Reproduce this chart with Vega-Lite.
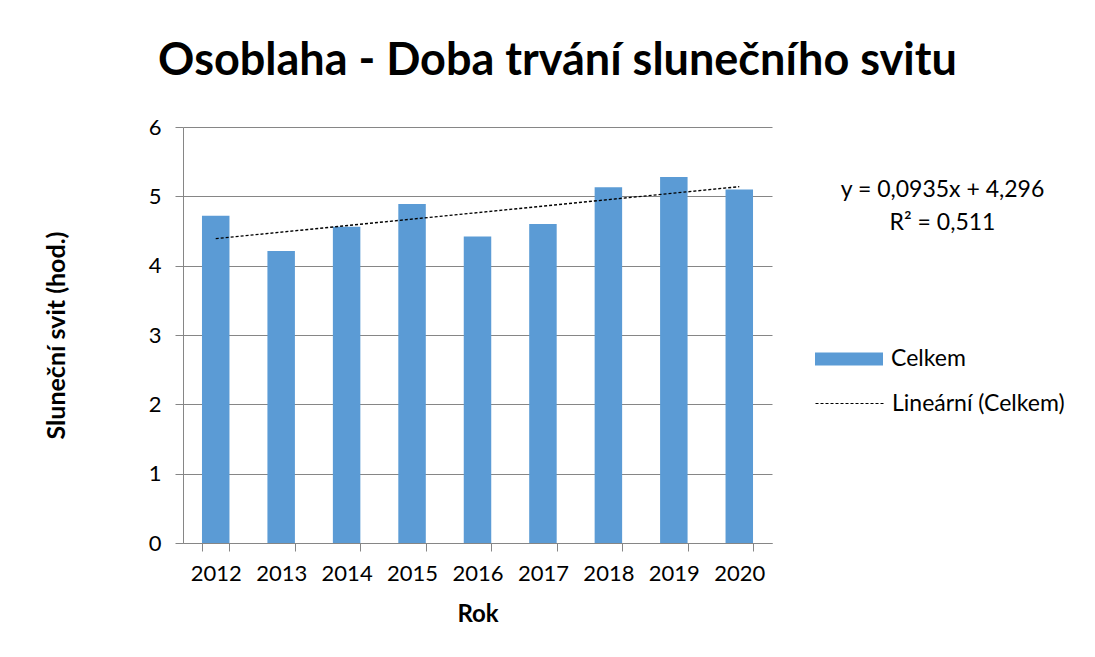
{
  "$schema": "https://vega.github.io/schema/vega-lite/v6.json",
  "width": 589,
  "height": 416,
  "autosize": {"type": "none"},
  "padding": {"left": 183, "top": 127, "right": 323, "bottom": 114},
  "background": "white",
  "config": {"font": "Lato", "view": {"stroke": null}},
  "title": {
    "text": "Osoblaha - Doba trvání slunečního svitu",
    "fontSize": 45,
    "fontWeight": "bold",
    "color": "black",
    "anchor": "middle",
    "frame": "group",
    "dx": 80,
    "offset": 32,
    "font": "Lato"
  },
  "datasets": {
    "bars": [
      {"Rok": 2012, "Celkem": 4.72},
      {"Rok": 2013, "Celkem": 4.21},
      {"Rok": 2014, "Celkem": 4.56},
      {"Rok": 2015, "Celkem": 4.89},
      {"Rok": 2016, "Celkem": 4.42},
      {"Rok": 2017, "Celkem": 4.60},
      {"Rok": 2018, "Celkem": 5.13},
      {"Rok": 2019, "Celkem": 5.28},
      {"Rok": 2020, "Celkem": 5.10}
    ],
    "trend": [
      {"Rok": 2012, "trend": 4.39},
      {"Rok": 2020, "trend": 5.14}
    ]
  },
  "layer": [
    {
      "data": {"name": "bars"},
      "mark": {"type": "bar", "color": "#5B9BD5"},
      "encoding": {
        "x": {
          "field": "Rok",
          "type": "ordinal",
          "scale": {"paddingInner": 0.58, "paddingOuter": 0.29},
          "axis": {
            "title": "Rok",
            "titleFontSize": 24,
            "titleFontWeight": "bold",
            "titleColor": "black",
            "titlePadding": 18,
            "labelAngle": 0,
            "labelFontSize": 22,
            "labelColor": "black",
            "labelPadding": 12,
            "domainColor": "#868686",
            "tickColor": "#868686",
            "tickSize": 8,
            "tickBand": "extent",
            "grid": false
          }
        },
        "y": {
          "field": "Celkem",
          "type": "quantitative",
          "scale": {"domain": [0, 6]},
          "axis": {
            "title": "Sluneční svit (hod.)",
            "titleFontSize": 25,
            "titleFontWeight": "bold",
            "titleColor": "black",
            "titlePadding": 79,
            "labelFontSize": 22,
            "labelColor": "black",
            "labelPadding": 14,
            "values": [0, 1, 2, 3, 4, 5, 6],
            "gridColor": "#868686",
            "domainColor": "#868686",
            "tickColor": "#868686",
            "tickSize": 8
          }
        },
        "fill": {
          "datum": "Celkem",
          "scale": {"range": ["#5B9BD5"]},
          "legend": {
            "orient": "none",
            "legendX": 632,
            "legendY": 198,
            "title": null,
            "symbolType": "M-1,-0.19H1V0.19H-1Z",
            "symbolSize": 4624,
            "symbolStrokeWidth": 0,
            "labelFontSize": 23,
            "labelOffset": 8,
            "labelLimit": 400,
            "labelColor": "black"
          }
        }
      }
    },
    {
      "data": {"name": "trend"},
      "mark": {"type": "line", "color": "black", "strokeWidth": 1.4},
      "encoding": {
        "x": {"field": "Rok", "type": "ordinal"},
        "y": {
          "field": "trend",
          "type": "quantitative",
          "scale": {"domain": [0, 6]},
          "axis": {
            "orient": "right",
            "labels": false,
            "ticks": false,
            "domain": false,
            "grid": false,
            "title": ["y = 0,0935x + 4,296", "R² = 0,511"],
            "titleAngle": 0,
            "titleAlign": "center",
            "titleBaseline": "top",
            "titleX": 170,
            "titleY": 51,
            "titleFontSize": 23,
            "titleFontWeight": "normal",
            "titleColor": "black",
            "titleLineHeight": 33
          }
        },
        "strokeDash": {
          "datum": "Lineární (Celkem)",
          "scale": {"range": [[3, 2]]},
          "legend": {
            "orient": "none",
            "legendX": 632,
            "legendY": 242,
            "title": null,
            "symbolType": "stroke",
            "symbolSize": 4624,
            "symbolStrokeColor": "black",
            "symbolStrokeWidth": 1,
            "labelFontSize": 23,
            "labelOffset": 8,
            "labelLimit": 400,
            "labelColor": "black"
          }
        }
      }
    }
  ],
  "resolve": {"scale": {"y": "independent"}, "axis": {"y": "independent"}}
}
